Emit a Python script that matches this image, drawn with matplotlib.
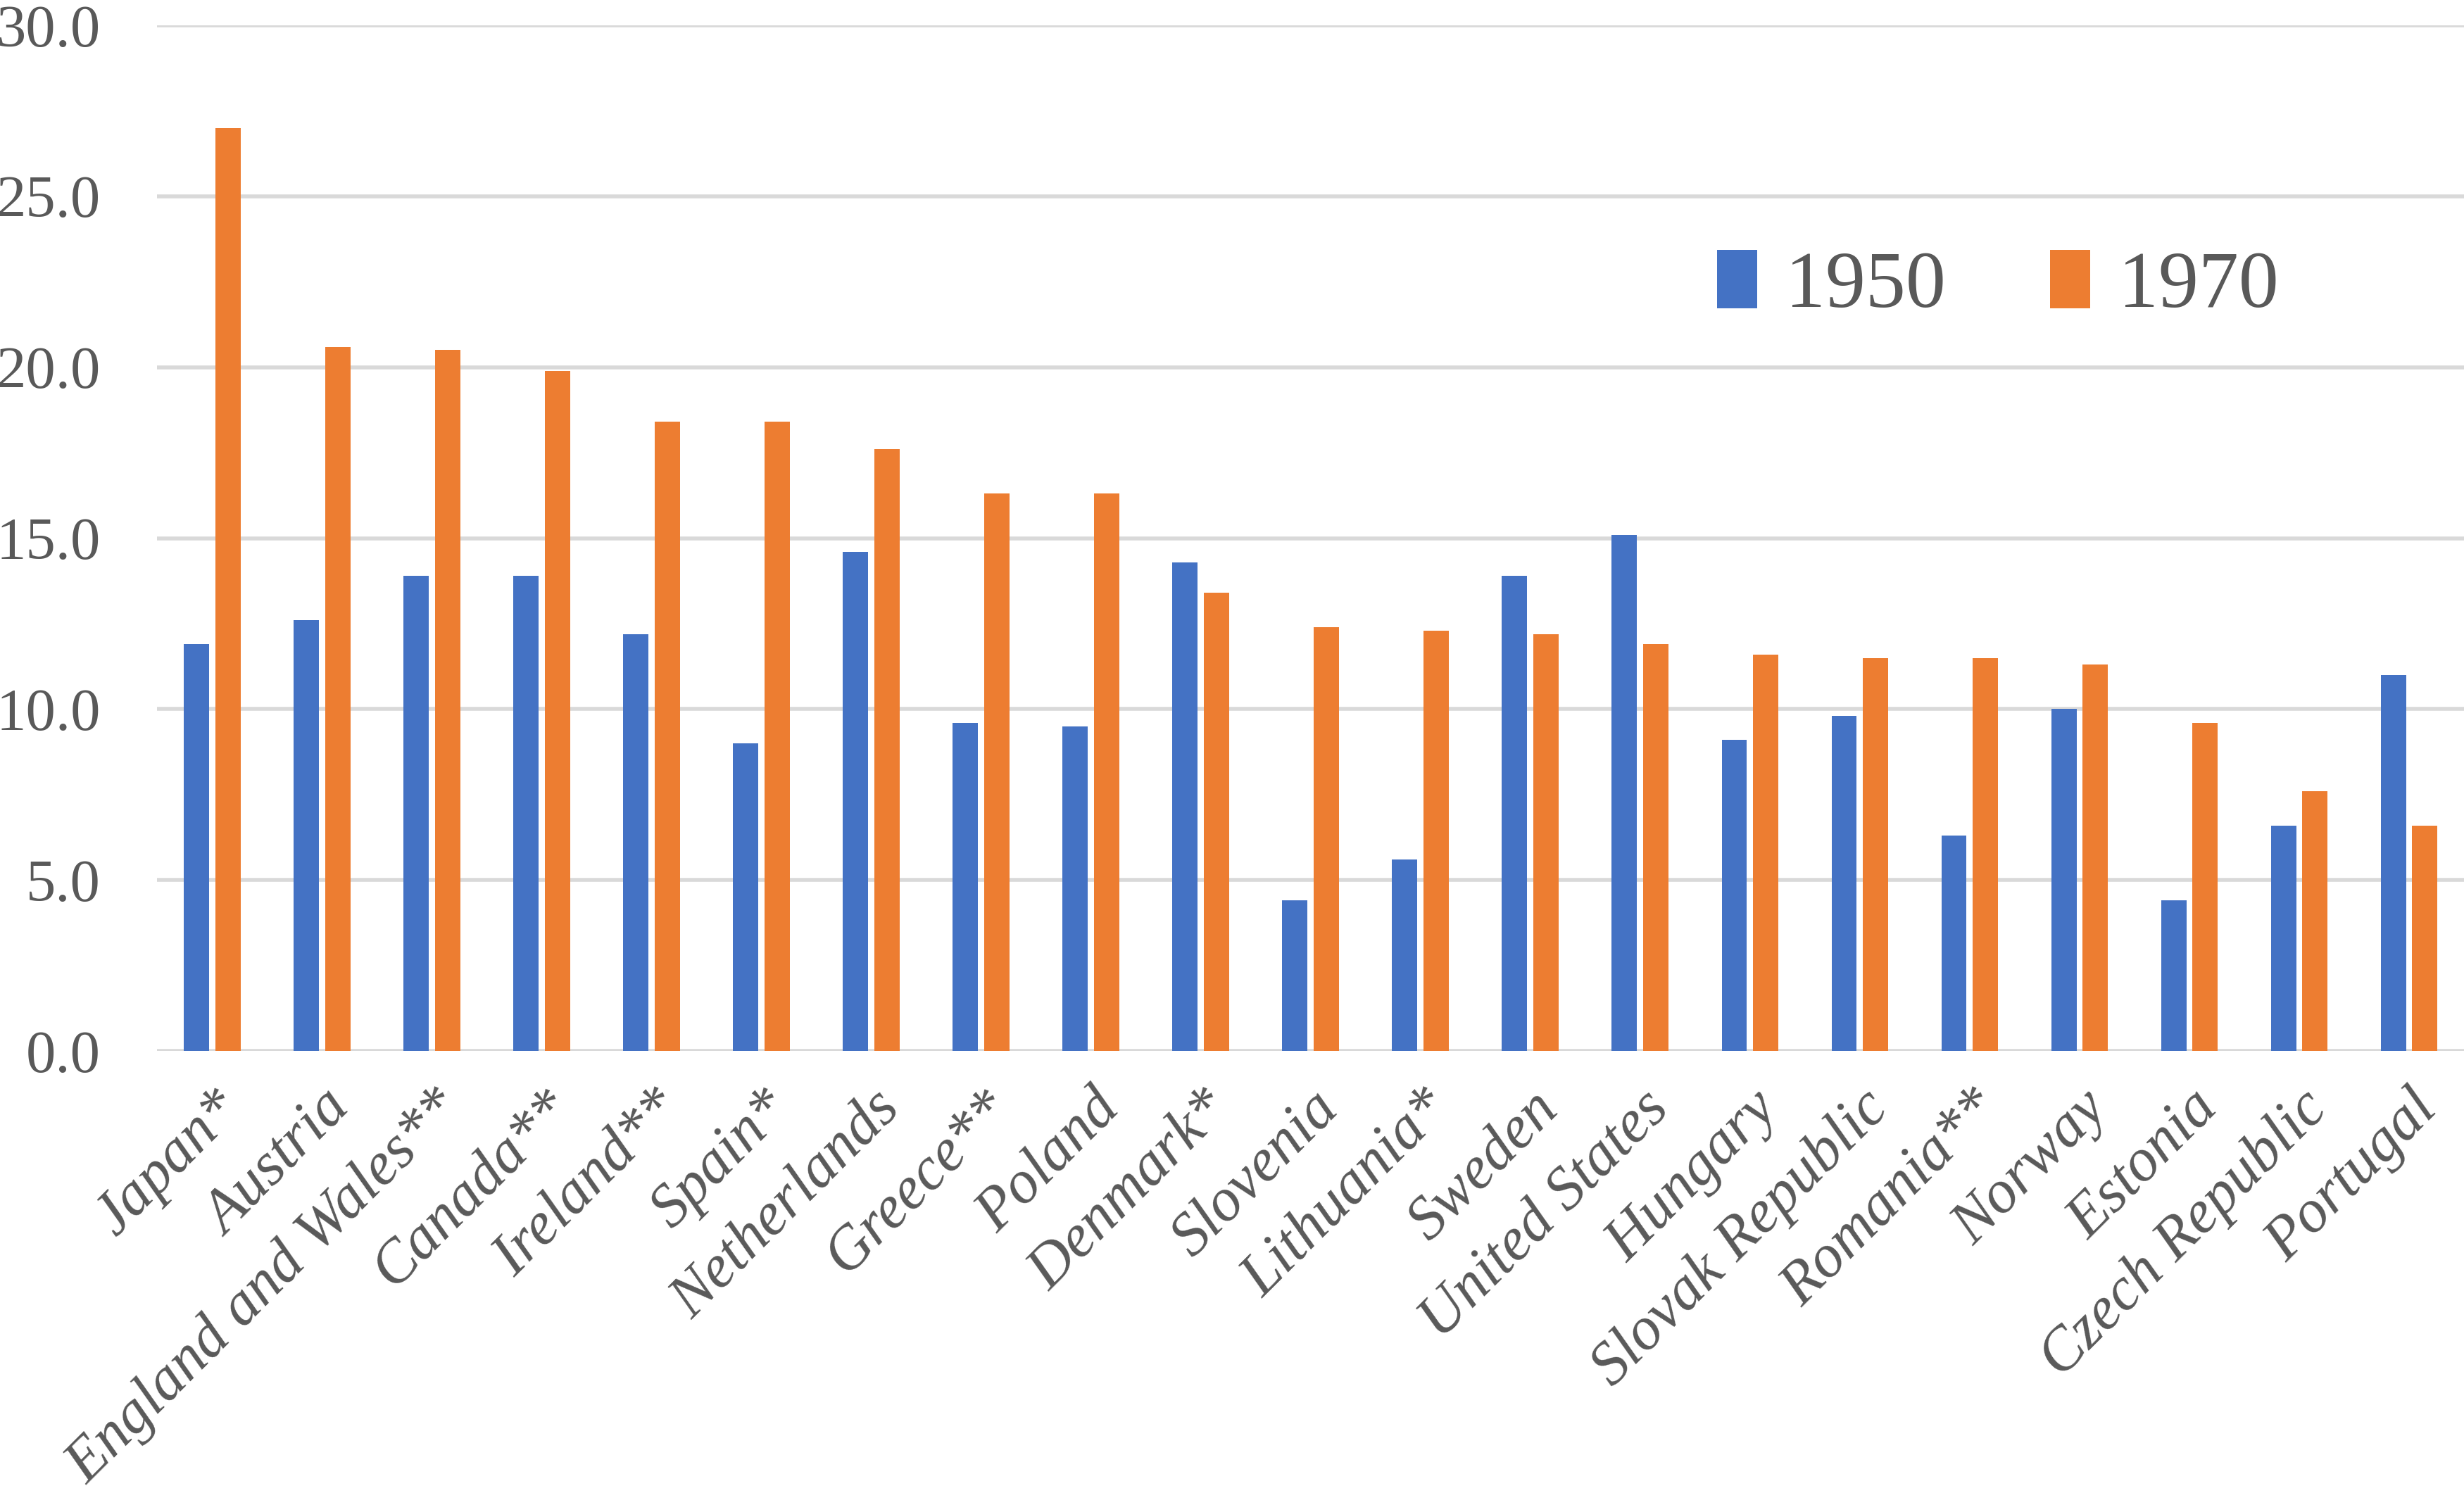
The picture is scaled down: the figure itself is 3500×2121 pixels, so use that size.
import numpy as np
import matplotlib.pyplot as plt

countries = ["Japan*", "Austria", "England and Wales**", "Canada**", "Ireland**",
             "Spain*", "Netherlands", "Greece**", "Poland", "Denmark*", "Slovenia",
             "Lithuania*", "Sweden", "United States", "Hungary", "Slovak Republic",
             "Romania**", "Norway", "Estonia", "Czech Republic", "Portugal"]
v1950 = [11.9, 12.6, 13.9, 13.9, 12.2, 9.0, 14.6, 9.6, 9.5, 14.3, 4.4,
         5.6, 13.9, 15.1, 9.1, 9.8, 6.3, 10.0, 4.4, 6.6, 11.0]
v1970 = [27.0, 20.6, 20.5, 19.9, 18.4, 18.4, 17.6, 16.3, 16.3, 13.4, 12.4,
         12.3, 12.2, 11.9, 11.6, 11.5, 11.5, 11.3, 9.6, 7.6, 6.6]
yticks = [0, 5, 10, 15, 20, 25, 30]

blue = "#4472C4"
orange = "#ED7D31"
txt = "#595959"

fig = plt.figure(figsize=(35, 21.21), dpi=100)
ax = fig.add_axes([0.0638, 0.296, 0.9362, 0.687])

x = np.arange(len(countries))
w = 0.23
ax.bar(x - 0.143, v1950, w, color=blue, label="1950", zorder=3)
ax.bar(x + 0.143, v1970, w, color=orange, label="1970", zorder=3)

ax.set_xlim(-0.5, len(countries) - 0.5)
ax.set_ylim(0, 30)
ax.set_yticks(yticks)
ax.set_yticklabels([f"{t:.1f}" for t in yticks], family="Liberation Serif",
                   fontsize=61, color=txt)
ax.yaxis.grid(True, color="#D9D9D9", linewidth=4, zorder=0)
ax.tick_params(axis="both", length=0)
ax.tick_params(axis="y", pad=58)
for s in ax.spines.values():
    s.set_visible(False)

ax.set_xticks(x)
ax.set_xticklabels(countries, rotation=45, ha="right", rotation_mode="anchor",
                   family="Liberation Serif", style="italic", fontsize=62, color=txt)
ax.tick_params(axis="x", pad=30)

# legende a l'interieur du graphique
leg = ax.legend(loc="center left", bbox_to_anchor=(0.645, 0.745), ncol=2,
                frameon=False, prop={"family": "Liberation Serif", "size": 82},
                handlelength=0.5, handleheight=0.75, handletextpad=0.35,
                columnspacing=1.3, labelcolor=txt)

fig.savefig("out.png", dpi=100, facecolor="white")
